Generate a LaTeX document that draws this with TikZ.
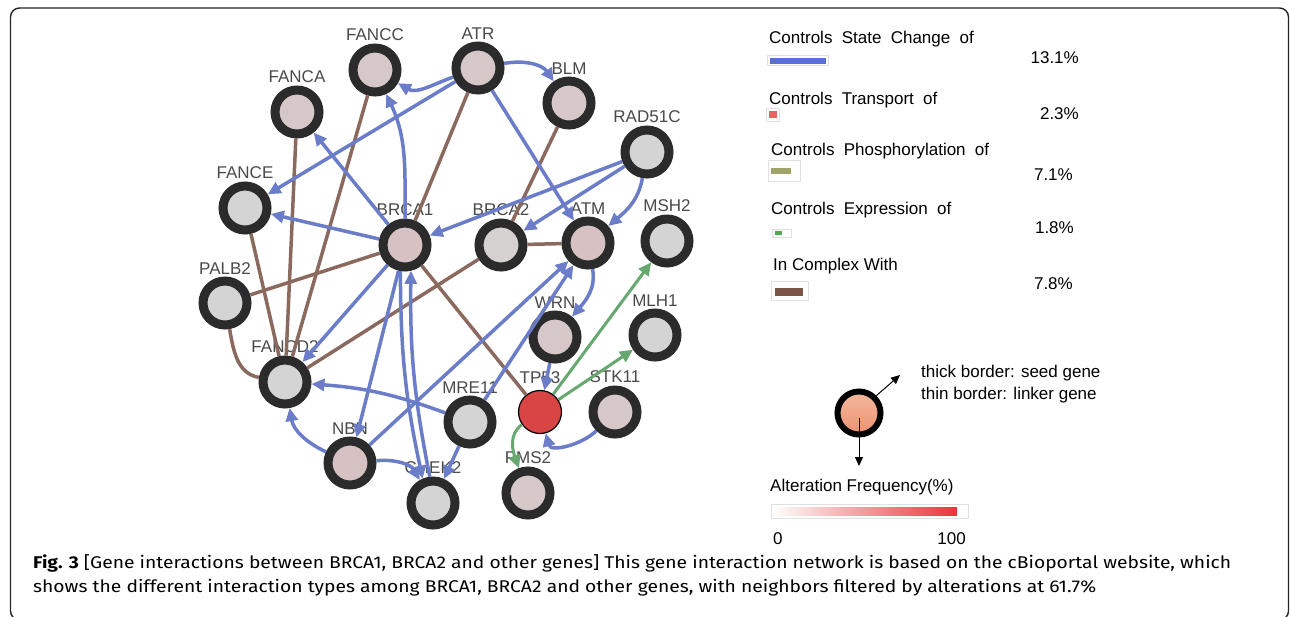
\documentclass[tikz,border=0pt]{standalone}
\usepackage{fontspec}
\setmainfont{Liberation Sans}
\newfontfamily\capfont{Fira Sans}
\usetikzlibrary{arrows.meta}
\definecolor{ring}{HTML}{2B2B2B}
\definecolor{pk}{HTML}{D6C8C8}
\definecolor{pkb}{HTML}{D6C2C2}
\definecolor{gr}{HTML}{D4D4D4}
\definecolor{grb}{HTML}{D6D1D1}
\definecolor{tpred}{HTML}{D94444}
\definecolor{labc}{HTML}{4A4A4A}
\definecolor{scb}{HTML}{6B7DC8}
\definecolor{cxb}{HTML}{8A6A5E}
\definecolor{exg}{HTML}{66A870}
\definecolor{capc}{HTML}{333333}
\definecolor{barblue}{HTML}{5B6FD6}
\definecolor{barred}{HTML}{E86464}
\definecolor{barolive}{HTML}{A0A468}
\definecolor{bargreen}{HTML}{4CAA50}
\definecolor{barbrown}{HTML}{7A5545}
\definecolor{salmtop}{HTML}{F6B89C}
\definecolor{salmbot}{HTML}{EA9272}
\definecolor{gradred}{HTML}{E8353A}
\newcommand\widesp{\spaceskip=9.3pt\relax}
\newsavebox\capone
\newsavebox\captwo
\begin{document}
\sbox\capone{\capfont\fontsize{17}{17}\selectfont\textbf{Fig. 3} [Gene interactions between BRCA1, BRCA2 and other genes] This gene interaction network is based on the cBioportal website, which}%
\sbox\captwo{\capfont\fontsize{17}{17}\selectfont shows the different interaction types among BRCA1, BRCA2 and other genes, with neighbors filtered by alterations at 61.7\%}%
\pgfmathsetmacro\capsx{1198/\wd\capone}%
\begin{tikzpicture}[x=1pt,y=1pt,
  gene/.style={circle, draw=ring, line width=9pt, minimum size=44pt, inner sep=0pt},
  glab/.style={text=labc, font=\fontsize{17}{17}\selectfont, inner sep=0pt, outer sep=0pt, label distance=2.5pt},
  sc/.style={draw=scb, line width=3.5pt, -{Triangle[length=13pt,width=12pt]}},
  cx/.style={draw=cxb, line width=3.5pt},
  ex/.style={draw=exg, line width=3pt, -{Triangle[length=13pt,width=12pt]}},
  legp/.style={anchor=base east, inner sep=0pt, font=\fontsize{17}{17}\selectfont},
  leg2/.style={anchor=base west, inner sep=0pt, font=\fontsize{17}{17}\selectfont},
  thin arrow/.style={draw=black, line width=1pt, -{Triangle[length=9pt,width=8pt]}}
]
\useasboundingbox (0,0) rectangle (1290,-616);
\fill[white] (0,0) rectangle (1290,-616);
\draw[line width=1.4pt, black!85, rounded corners=9pt] (10.5,-8) rectangle (1288.5,-620);

% genes
\node[gene, fill=pk, label={[glab]above:FANCC}] (FANCC) at (375,-70) {};
\node[gene, fill=pk, label={[glab]above:ATR}] (ATR) at (478,-68) {};
\node[gene, fill=pk, label={[glab]above:FANCA}] (FANCA) at (297,-112) {};
\node[gene, fill=pk, label={[glab]above:BLM}] (BLM) at (569,-103) {};
\node[gene, fill=gr, label={[glab]above:RAD51C}] (RAD51C) at (647,-152) {};
\node[gene, fill=gr, label={[glab]above:FANCE}] (FANCE) at (245,-208) {};
\node[gene, fill=pkb, label={[glab]above:BRCA1}] (BRCA1) at (405,-245) {};
\node[gene, fill=grb, label={[glab]above:BRCA2}] (BRCA2) at (501,-245) {};
\node[gene, fill=pkb, label={[glab]above:ATM}] (ATM) at (588,-243) {};
\node[gene, fill=gr, label={[glab]above:MSH2}] (MSH2) at (667,-241) {};
\node[gene, fill=gr, label={[glab]above:PALB2}] (PALB2) at (225,-303) {};
\node[gene, fill=gr, label={[glab]above:FANCD2}] (FANCD2) at (285,-382) {};
\node[gene, fill=pk, label={[glab]above:WRN}] (WRN) at (555,-337) {};
\node[gene, fill=gr, label={[glab]above:MLH1}] (MLH1) at (655,-335) {};
\node[gene, fill=gr, label={[glab]above:MRE11}] (MRE11) at (470,-422) {};
\node[circle, draw=black, line width=1.2pt, fill=tpred, minimum size=43pt, inner sep=0pt,
      label={[glab, label distance=6pt]above:TP53}] (TP53) at (540,-412) {};
\node[gene, fill=pk, label={[glab]above:STK11}] (STK11) at (615,-412) {};
\node[gene, fill=pkb, label={[glab]above:NBN}] (NBN) at (350,-463) {};
\node[gene, fill=gr, label={[glab]above:CHEK2}] (CHEK2) at (433,-503) {};
\node[gene, fill=pk, label={[glab]above:PMS2}] (PMS2) at (528,-493) {};

% in complex with
\draw[cx] (ATR) -- (BRCA1);
\draw[cx] (FANCC) -- (FANCD2);
\draw[cx] (FANCA) -- (FANCD2);
\draw[cx] (FANCE) -- (FANCD2);
\draw[cx] (BLM) -- (BRCA2);
\draw[cx] (BRCA1) -- (PALB2);
\draw[cx] (BRCA2) -- (FANCD2);
\draw[cx] (BRCA2) -- (ATM);
\draw[cx] (BRCA1) -- (TP53);
\draw[cx] (PALB2) to[out=-80,in=170] (FANCD2);

% controls state change
\draw[sc] (ATR) to[out=200,in=-30] (FANCC);
\draw[sc] (ATR) -- (FANCE);
\draw[sc] (ATR) to[out=10,in=125] (BLM);
\draw[sc] (ATR) -- (ATM);
\draw[sc] (BRCA1) to[out=90,in=-65] (FANCC);
\draw[sc] (BRCA1) -- (FANCA);
\draw[sc] (BRCA1) -- (FANCE);
\draw[sc] (RAD51C) -- (BRCA1);
\draw[sc] (RAD51C) -- (BRCA2);
\draw[sc] (RAD51C) to[out=260,in=40] (ATM);
\draw[sc] (BRCA1) -- (FANCD2);
\draw[sc] (BRCA1) -- (NBN);
\draw[sc] (BRCA1.-100) to[bend right=6] (CHEK2.113);
\draw[sc] (CHEK2.97) to[bend left=6] (BRCA1.-77);
\draw[sc] (NBN) -- (ATM);
\draw[sc] (MRE11) -- (ATM);
\draw[sc] (ATM) to[out=-80,in=50] (WRN);
\draw[sc] (WRN) -- (TP53);
\draw[sc] (MRE11) to[bend right=8] (FANCD2);
\draw[sc] (NBN) to[out=155,in=-80] (FANCD2);
\draw[sc] (NBN) to[out=5,in=120] (CHEK2);
\draw[sc] (MRE11) -- (CHEK2);
\draw[sc] (STK11) to[out=225,in=-75] (TP53);

% controls expression
\draw[ex] (TP53) -- (MSH2);
\draw[ex] (TP53) -- (MLH1);
\draw[ex] (TP53) to[out=215,in=110] (PMS2);

% legend: interaction types
\node[leg2] (l1) at (769,-43) {\widesp Controls State Change of};
\node[leg2] (l2) at (769,-104) {\widesp Controls Transport of};
\node[leg2] (l3) at (771,-155) {\widesp Controls Phosphorylation of};
\node[leg2] (l4) at (771,-214) {\widesp Controls Expression of};
\node[leg2] (l5) at (773,-270) {In Complex With};
\node[legp] (p1) at (1079,-63) {13.1\%};
\node[legp] (p2) at (1079,-119) {2.3\%};
\node[legp] (p3) at (1073,-180) {7.1\%};
\node[legp] (p4) at (1074,-233) {1.8\%};
\node[legp] (p5) at (1073,-289) {7.8\%};

\draw[black!12, line width=0.8pt] (767,-55.5) rectangle (828,-65.5);
\fill[barblue] (769.5,-57.5) rectangle (826,-63.5);
\draw[black!12, line width=0.8pt] (766,-108) rectangle (779,-121);
\fill[barred] (769,-111) rectangle (776.5,-118);
\draw[black!12, line width=0.8pt] (768,-160) rectangle (800,-181);
\fill[barolive] (771,-167.5) rectangle (791,-173.5);
\draw[black!12, line width=0.8pt] (772,-229) rectangle (791,-237);
\fill[bargreen] (775,-231) rectangle (781.5,-235);
\draw[black!12, line width=0.8pt] (771,-281) rectangle (808,-300);
\fill[barbrown] (775,-287.5) rectangle (803,-296);

% legend: borders and alteration frequency
\node[circle, draw=black, line width=6pt, top color=salmtop, bottom color=salmbot,
      minimum size=43pt, inner sep=0pt] (lc) at (859,-413) {};
\coordinate (a1) at (900,-375);
\coordinate (a2) at (859,-466);
\draw[thin arrow] (lc.45) -- (a1);
\draw[thin arrow] ([yshift=-5pt]lc.center) -- (a2);
\node[leg2] (t1) at (921,-377) {thick border: seed gene};
\node[leg2] (t2) at (921,-399) {thin border: linker gene};
\node[leg2] (af) at (770,-491) {Alteration Frequency(\%)};
\draw[black!12, line width=0.8pt] (771,-504) rectangle (968,-518);
\shade[left color=white, right color=gradred] (772,-507) rectangle (957,-515);
\node[leg2] (z0) at (773,-544) {0};
\node[legp] (z100) at (966,-544) {100};

% caption
\node[anchor=base west, inner sep=0pt, text=capc] (cap1) at (33,-568)
  {\scalebox{\capsx}[1]{\usebox\capone}};
\node[anchor=base west, inner sep=0pt, text=capc] (cap2) at (33,-592)
  {\scalebox{\capsx}[1]{\usebox\captwo}};
\end{tikzpicture}
\end{document}
